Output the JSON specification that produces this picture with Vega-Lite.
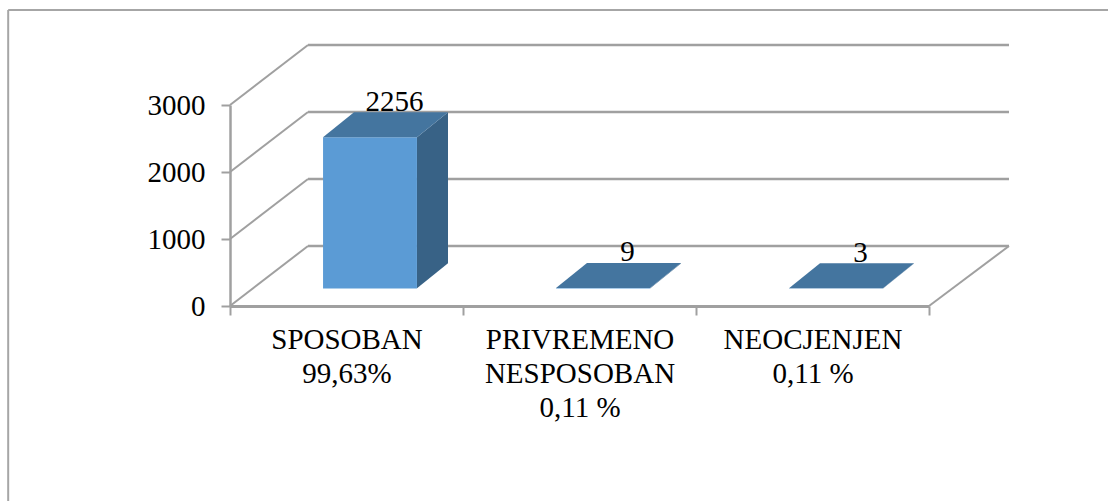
{
"$schema":"https://vega.github.io/schema/vega-lite/v6.json",
"width":699,"height":201,
"autosize":{"type":"none"},
"padding":{"left":230,"top":105,"right":179,"bottom":195},
"background":"white",
"config":{"view":{"stroke":null},"text":{"font":"Liberation Serif"}},
"datasets":{
"bars":[
{"label":"SPOSOBAN\n99,63%","value":2256},
{"label":"PRIVREMENO\nNESPOSOBAN\n0,11 %","value":9},
{"label":"NEOCJENJEN\n0,11 %","value":3}],
"levels":[{"level":0},{"level":1000},{"level":2000},{"level":3000}]
},
"resolve":{"scale":{"x":"independent"},"axis":{"x":"independent"}},
"layer":[
{"data":{"name":"levels"},
 "mark":{"type":"rule","color":"#a0a0a0","strokeWidth":2.5,"xOffset":78,"x2Offset":80,"yOffset":-60,"y2Offset":-60},
 "encoding":{
  "x":{"datum":0,"type":"quantitative","scale":{"domain":[0,3],"nice":false,"zero":false},"axis":null},
  "x2":{"datum":3},
  "y":{"field":"level","type":"quantitative","scale":{"domain":[0,3000],"nice":false},"axis":{"values":[0,1000,2000,3000],"format":"d","title":null,"grid":false,"domainColor":"#a0a0a0","domainWidth":2.5,"tickColor":"#a0a0a0","tickWidth":2,"tickSize":9,"labelFont":"Liberation Serif","labelFontSize":29,"labelColor":"black","labelPadding":16,"labelFlush":false,"labelOverlap":false}},
  "y2":{"field":"level"}}},
{"data":{"name":"levels"},
 "mark":{"type":"rule","color":"#a0a0a0","strokeWidth":2,"x2Offset":78,"y2Offset":-60},
 "encoding":{
  "x":{"datum":0,"type":"quantitative","scale":{"domain":[0,3],"nice":false,"zero":false},"axis":null},
  "x2":{"datum":0},
  "y":{"field":"level","type":"quantitative"},
  "y2":{"field":"level"}}},
{"data":{"name":"levels"},
 "transform":[{"filter":"datum.level==0"}],
 "mark":{"type":"rule","color":"#a0a0a0","strokeWidth":2,"x2Offset":80,"y2Offset":-60},
 "encoding":{
  "x":{"datum":3,"type":"quantitative","scale":{"domain":[0,3],"nice":false,"zero":false},"axis":null},
  "x2":{"datum":3},
  "y":{"field":"level","type":"quantitative"},
  "y2":{"field":"level"}}},
{"data":{"name":"levels"},
 "transform":[{"filter":"datum.level==0"}],
 "mark":{"type":"rule","color":"#a6a6a6","strokeWidth":2},
 "encoding":{
  "x":{"datum":-0.952,"type":"quantitative","scale":{"domain":[0,3],"nice":false,"zero":false},"axis":null},
  "x2":{"datum":3.77},
  "y":{"datum":4418,"type":"quantitative"},
  "y2":{"datum":4418}}},
{"data":{"name":"levels"},
 "transform":[{"filter":"datum.level==0"}],
 "mark":{"type":"rule","color":"#a6a6a6","strokeWidth":2},
 "encoding":{
  "x":{"datum":-0.952,"type":"quantitative","scale":{"domain":[0,3],"nice":false,"zero":false},"axis":null},
  "y":{"datum":4418,"type":"quantitative"},
  "y2":{"datum":-2910}}},
{"data":{"name":"bars"},
 "mark":{"type":"bar","color":"#5b9bd5","width":{"band":0.403},"xOffset":23.5,"yOffset":-17.5},
 "encoding":{
  "x":{"field":"label","type":"nominal","sort":null,"scale":{"paddingInner":0,"paddingOuter":0},"axis":{"title":null,"labelAngle":0,"labelExpr":"split(datum.label,'\\n')","labelFont":"Liberation Serif","labelFontSize":29,"labelColor":"black","labelLineHeight":34,"labelPadding":10,"labelBaseline":"top","labelLimit":0,"labelOverlap":false,"labelFlush":false,"tickBand":"extent","tickColor":"#a0a0a0","tickWidth":2,"tickSize":9,"domainColor":"#a0a0a0","domainWidth":3}},
  "y":{"field":"value","type":"quantitative"}}},
{"data":{"name":"bars"},
 "mark":{"type":"point","filled":true,"opacity":1,"size":10000,"xOffset":23.5,"yOffset":-17.5,"color":"#386286","strokeWidth":0},
 "encoding":{
  "x":{"field":"label","type":"nominal","sort":null,"scale":{"paddingInner":0,"paddingOuter":0},"axis":null},
  "y":{"field":"value","type":"quantitative"},
  "shape":{"field":"label","type":"nominal","legend":null,"scale":{"domain":["SPOSOBAN\n99,63%","PRIVREMENO\nNESPOSOBAN\n0,11 %","NEOCJENJEN\n0,11 %"],"range":["M0.94 0L1.56 -0.5L1.56 2.52L0.94 3.02Z","M0.94 0L1.56 -0.5L1.56 -0.488L0.94 0.012Z","M0.94 0L1.56 -0.5L1.56 -0.496L0.94 0.004Z"]}}}},
{"data":{"name":"bars"},
 "mark":{"type":"point","filled":true,"opacity":1,"size":10000,"xOffset":23.5,"yOffset":-17.5,"color":"#44759f","strokeWidth":0,"shape":"M-0.94 0L0.94 0L1.56 -0.5L-0.32 -0.5Z"},
 "encoding":{
  "x":{"field":"label","type":"nominal","sort":null,"scale":{"paddingInner":0,"paddingOuter":0},"axis":null},
  "y":{"field":"value","type":"quantitative"}}},
{"data":{"name":"bars"},
 "mark":{"type":"text","font":"Liberation Serif","fontSize":29,"color":"black","xOffset":48,"yOffset":-44,"baseline":"alphabetic"},
 "encoding":{
  "x":{"field":"label","type":"nominal","sort":null,"scale":{"paddingInner":0,"paddingOuter":0},"axis":null},
  "y":{"field":"value","type":"quantitative"},
  "text":{"field":"value","type":"quantitative"}}}
]}
